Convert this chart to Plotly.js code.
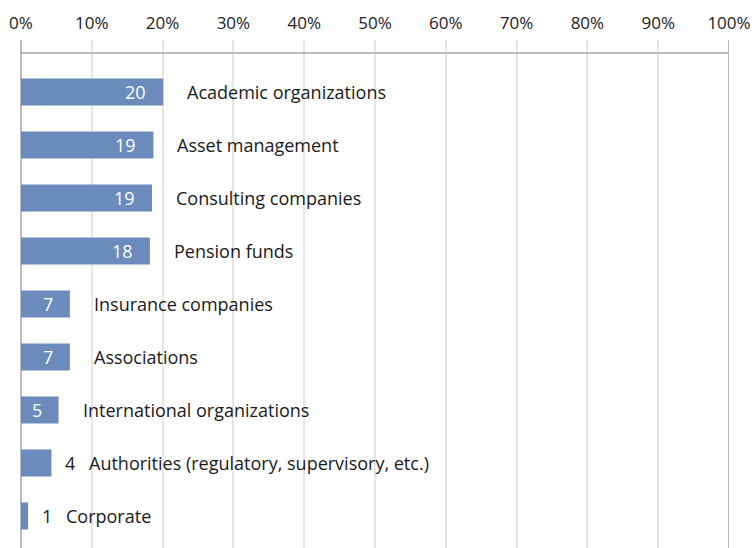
<!DOCTYPE html>
<html>
<head>
<meta charset="utf-8">
<script src="https://cdn.plot.ly/plotly-3.0.1.min.js"></script>
<style>
  body { margin: 0; padding: 0; background: #fff; }
  #plot { width: 755px; height: 548px; }
</style>
</head>
<body>
<div id="plot"></div>
<script>
// Categories and their shares (%)
let categories = [
  "Academic organizations",
  "Asset management",
  "Consulting companies",
  "Pension funds",
  "Insurance companies",
  "Associations",
  "International organizations",
  "Authorities (regulatory, supervisory, etc.)",
  "Corporate"
];
let shares = [20.1, 18.7, 18.5, 18.2, 6.9, 6.9, 5.3, 4.3, 1.0];

// tick values for the top axis
let tickVals = [0, 10, 20, 30, 40, 50, 60, 70, 80, 90, 100];
let tickText = tickVals.map(t => t + "%");

let barColor = "#6a8bbc";
let fontFam = "'Open Sans', 'Noto Sans', sans-serif";

// Labels: rounded value inside the bar when it fits, otherwise just outside
let annotations = [];
for (let i = 0; i < categories.length; i++) {
  let v = shares[i];
  let inside = v >= 5;
  annotations.push({
    x: v, y: categories[i], xref: "x", yref: "y",
    text: String(Math.round(v)),
    showarrow: false,
    xanchor: inside ? "right" : "left",
    xshift: inside ? -15 : 12,
    font: { family: fontFam, size: 18, color: inside ? "#ffffff" : "#1a1a1a" }
  });
  annotations.push({
    x: v, y: categories[i], xref: "x", yref: "y",
    text: categories[i],
    showarrow: false,
    xanchor: "left",
    xshift: inside ? 22 : 36,
    font: { family: fontFam, size: 18, color: "#1a1a1a" }
  });
}

let trace1 = {
  type: "bar",
  orientation: "h",
  x: shares,
  y: categories,
  marker: { color: barColor },
  hoverinfo: "x+y"
};

let layout = {
  width: 755,
  height: 548,
  margin: { l: 21, r: 26, t: 40, b: 0, pad: 0 },
  paper_bgcolor: "#ffffff",
  plot_bgcolor: "#ffffff",
  showlegend: false,
  bargap: 0.49,
  font: { family: fontFam, size: 17, color: "#222222" },
  xaxis: {
    side: "top",
    range: [0, 100],
    tickmode: "array",
    tickvals: tickVals,
    ticktext: tickText,
    showgrid: true,
    gridcolor: "#e6e6e6",
    gridwidth: 2,
    zeroline: true,
    zerolinecolor: "#bcbcbc",
    zerolinewidth: 2,
    showline: false,
    ticks: "",
    ticklabelstandoff: 7,
    tickfont: { family: fontFam, size: 17, color: "#222222" },
    fixedrange: true
  },
  yaxis: {
    type: "category",
    range: [8.604, -0.981],
    showticklabels: false,
    showgrid: false,
    zeroline: false,
    showline: false,
    ticks: "",
    fixedrange: true
  },
  shapes: [
    // horizontal line under the top axis
    { type: "line", xref: "x", yref: "paper", x0: 0, x1: 100, y0: 0.9744, y1: 0.9744,
      line: { color: "#bcbcbc", width: 2 } },
    // right border line at 100%
    { type: "line", xref: "x", yref: "paper", x0: 100, x1: 100, y0: 0, y1: 1,
      line: { color: "#bcbcbc", width: 2 } }
  ],
  annotations: annotations
};

Plotly.newPlot("plot", [trace1], layout, { displayModeBar: false, staticPlot: true });
</script>
</body>
</html>
